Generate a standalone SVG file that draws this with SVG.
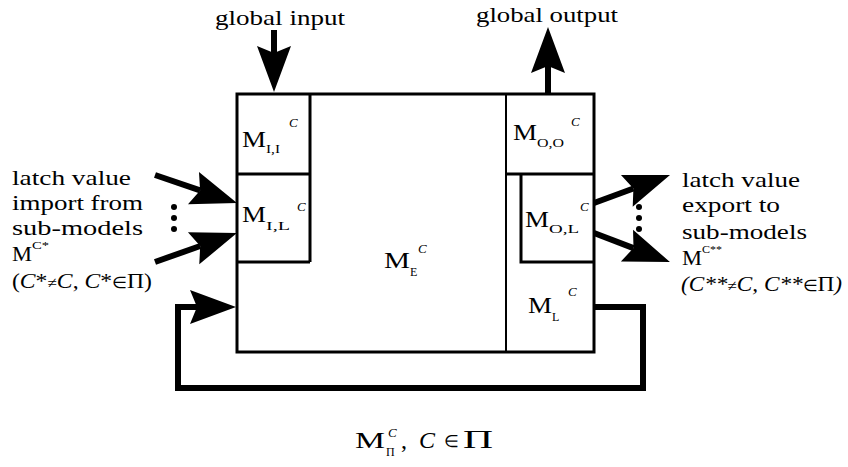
<svg xmlns="http://www.w3.org/2000/svg" width="848" height="467" viewBox="0 0 848 467">
<style>
text{font-family:"Liberation Serif",serif;fill:#000}
.t{font-size:22px}
.m{font-size:24px}
.s{font-size:12px}
.c{font-size:13px;font-style:italic}
.i{font-style:italic}
.sym{font-size:16px;font-style:normal}
.ln{fill:none;stroke:#000;stroke-width:3;stroke-linejoin:miter}
.arr{fill:none;stroke:#000;stroke-width:6}
</style>
<defs>
<marker id="ah" markerUnits="userSpaceOnUse" viewBox="-47 -18 48 36" refX="-39" refY="0" markerWidth="48" markerHeight="36" orient="auto" overflow="visible">
<path d="M0,0 L-46,-17 L-39,0 L-46,17 Z" fill="#000"/>
</marker>
</defs>
<rect width="848" height="467" fill="#fff"/>

<g id="container">
<rect class="ln" x="237" y="94" width="357" height="258"/>
</g>
<g id="M_II">
<path class="ln" d="M237,174 H310 M310,94 V262"/>
<text class="m" x="242" y="147" textLength="24" lengthAdjust="spacingAndGlyphs">M</text>
<text class="s" x="266" y="153" textLength="14" lengthAdjust="spacingAndGlyphs">I,I</text>
<text class="c" x="289" y="127">C</text>
</g>
<g id="M_IL">
<path class="ln" d="M310,262 H237"/>
<text class="m" x="242" y="222" textLength="24" lengthAdjust="spacingAndGlyphs">M</text>
<text class="s" x="266" y="230" textLength="24" lengthAdjust="spacingAndGlyphs">I,L</text>
<text class="c" x="297" y="211">C</text>
</g>
<g id="M_OO">
<path d="M506,94 V352" fill="none" stroke="#000" stroke-width="2"/>
<path class="ln" d="M506,174 H594"/>
<text class="m" x="513" y="140" textLength="24" lengthAdjust="spacingAndGlyphs">M</text>
<text class="s" x="537" y="147" textLength="27" lengthAdjust="spacingAndGlyphs">O,O</text>
<text class="c" x="571" y="126">C</text>
</g>
<g id="M_OL">
<path class="ln" d="M594,262 H521 V174"/>
<text class="m" x="525" y="227" textLength="24" lengthAdjust="spacingAndGlyphs">M</text>
<text class="s" x="549" y="233" textLength="30" lengthAdjust="spacingAndGlyphs">O,L</text>
<text class="c" x="580" y="211">C</text>
</g>
<g id="M_E">
<text class="m" x="384" y="268" textLength="26" lengthAdjust="spacingAndGlyphs">M</text>
<text class="s" x="410" y="276">E</text>
<text class="c" x="418" y="253">C</text>
</g>
<g id="M_L">
<text class="m" x="528" y="313" textLength="24" lengthAdjust="spacingAndGlyphs">M</text>
<text class="s" x="552" y="321">L</text>
<text class="c" x="568" y="296">C</text>
</g>

<g id="connectors">
<path class="arr" d="M274,30 V53" stroke-width="8" marker-end="url(#ah)"/>
<path class="arr" d="M548,94 V66" stroke-width="7" marker-end="url(#ah)"/>
<path class="arr" d="M155,175 L200.1,190.4" marker-end="url(#ah)"/>
<path class="arr" d="M155,262 L200.2,246" marker-end="url(#ah)"/>
<path class="arr" d="M594,203 L633.4,188.5" marker-end="url(#ah)"/>
<path class="arr" d="M594,233 L633.5,248.1" marker-end="url(#ah)"/>
<path class="arr" d="M594,307 H643 V388 H178 V307 H197" marker-end="url(#ah)"/>
<circle cx="174" cy="207" r="3"/>
<circle cx="174" cy="218" r="3"/>
<circle cx="174" cy="229" r="3"/>
<circle cx="639" cy="207" r="3"/>
<circle cx="639" cy="218" r="3"/>
<circle cx="639" cy="229" r="3"/>
</g>

<g id="labels">
<text class="t" x="215" y="25" textLength="130" lengthAdjust="spacingAndGlyphs">global input</text>
<text class="t" x="476" y="22" textLength="142" lengthAdjust="spacingAndGlyphs">global output</text>

<text class="t" x="12" y="185" textLength="119" lengthAdjust="spacingAndGlyphs">latch value</text>
<text class="t" x="12" y="210" textLength="131" lengthAdjust="spacingAndGlyphs">import from</text>
<text class="t" x="12" y="235" textLength="131" lengthAdjust="spacingAndGlyphs">sub-models</text>
<text class="t" x="12" y="261" textLength="20" lengthAdjust="spacingAndGlyphs">M</text>
<text x="32" y="249" font-size="11" textLength="17" lengthAdjust="spacingAndGlyphs">C*</text>
<text class="t" x="12" y="288" textLength="140" lengthAdjust="spacingAndGlyphs">(<tspan class="i">C</tspan>*<tspan class="sym">≠</tspan><tspan class="i">C</tspan>, <tspan class="i">C</tspan>*<tspan class="sym">∈</tspan>Π)</text>

<text class="t" x="682" y="187" textLength="118" lengthAdjust="spacingAndGlyphs">latch value</text>
<text class="t" x="682" y="212" textLength="98" lengthAdjust="spacingAndGlyphs">export to</text>
<text class="t" x="682" y="239" textLength="125" lengthAdjust="spacingAndGlyphs">sub-models</text>
<text class="t" x="682" y="265" textLength="20" lengthAdjust="spacingAndGlyphs">M</text>
<text x="702" y="253" font-size="11" textLength="20" lengthAdjust="spacingAndGlyphs">C**</text>
<text class="t i" x="681" y="291" textLength="161" lengthAdjust="spacingAndGlyphs">(C**<tspan class="sym">≠</tspan>C, C**<tspan class="sym">∈</tspan><tspan font-style="normal">Π</tspan>)</text>

<text x="355" y="448" font-size="24" textLength="30" lengthAdjust="spacingAndGlyphs">M</text>
<text x="386" y="456" font-size="12">Π</text>
<text x="388" y="437" font-size="13" font-style="italic">C</text>
<text x="401" y="448" font-size="24">,</text>
<text x="419" y="448" font-size="24" font-style="italic">C</text>
<text x="444" y="447" font-size="17">∈</text>
<text x="463" y="448" font-size="26" textLength="30" lengthAdjust="spacingAndGlyphs">Π</text>
</g>
</svg>
